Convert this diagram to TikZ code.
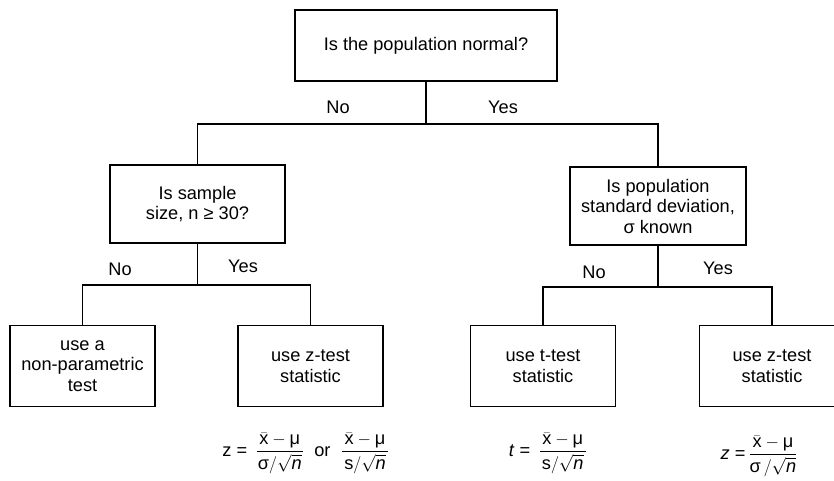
\documentclass[tikz,border=0pt]{standalone}
\usepackage{amsmath}
\usepackage{fontspec}
\setmainfont{Liberation Sans}
\usetikzlibrary{positioning}
\tikzset{
    qbox/.style={draw, line width=1.5pt, align=center, inner sep=2pt,
        font=\fontsize{18.2}{20.5}\selectfont},
    lbl/.style={font=\fontsize{18.2}{20}\selectfont},
    link/.style={line width=1.5pt},
}
\begin{document}
\begin{tikzpicture}[x=1pt,y=-1pt]
    \useasboundingbox (0,0) rectangle (834,480);
    \clip (0,0) rectangle (834,480);
    
    % 根节点
    \node[qbox, minimum width=262pt, minimum height=71pt] (Qn) at (426,45.5) {Is the population normal?};
    
    % 第二层问题
    \node[qbox, minimum width=175pt, minimum height=78pt] (Qs) at (197.5,204) {Is sample\\size, n ≥ 30?};
    \node[qbox, minimum width=176pt, minimum height=78pt] (Qd) at (658,206) {Is population\\standard deviation,\\σ known};
    
    % 结论框
    \foreach \name/\x/\txt in {Np/82.5/{use a\\non-parametric\\test}, Zs/310.5/{use z-test\\statistic}, Ts/543/{use t-test\\statistic}, Zk/772/{use z-test\\statistic}} {
        \node[qbox, minimum width=145pt, minimum height=81pt] (\name) at (\x,366) {\txt};
    }
    
    % 分支点
    \coordinate (S1) at (426,124);
    \coordinate (S2) at (197.5,285);
    \coordinate (S3) at (658,287);
    
    % 连线
    \draw[link] (Qn.south) -- (S1) -| (Qs.north);
    \draw[link] (S1) -| (Qd.north);
    \draw[link] (Qs.south) -- (S2) -| (Np.north);
    \draw[link] (S2) -| (Zs.north);
    \draw[link] (Qd.south) -- (S3) -| (Ts.north);
    \draw[link] (S3) -| (Zk.north);
    
    % 分支标签
    \node[lbl] (N1) at (338,107.5) {No};
    \node[lbl] (Y1) at (503,107) {Yes};
    \node[lbl] (N2) at (120,269) {No};
    \node[lbl] (Y2) at (243,266) {Yes};
    \node[lbl] (N3) at (594,272) {No};
    \node[lbl] (Y3) at (718,268) {Yes};
    
    % 检验统计量
    \node[lbl] (F1) at (306,453) {z =\;\,$\dfrac{\,\bar{\text{x}} - \text{μ}\,}{\text{σ}/\sqrt{\textit{n}}}$\; or\; $\dfrac{\,\bar{\text{x}} - \text{μ}\,}{\text{s}/\sqrt{\textit{n}}}$};
    \node[lbl] (F2) at (548,453) {\textit{t} =\;\,$\dfrac{\,\bar{\text{x}} - \text{μ}\,}{\text{s}/\sqrt{\textit{n}}}$};
    \node[lbl] (F3) at (759,456) {\textit{z} =\,$\dfrac{\,\bar{\text{x}} - \text{μ}\,}{\text{σ}\,/\sqrt{\textit{n}}}$};
\end{tikzpicture}
\end{document}
